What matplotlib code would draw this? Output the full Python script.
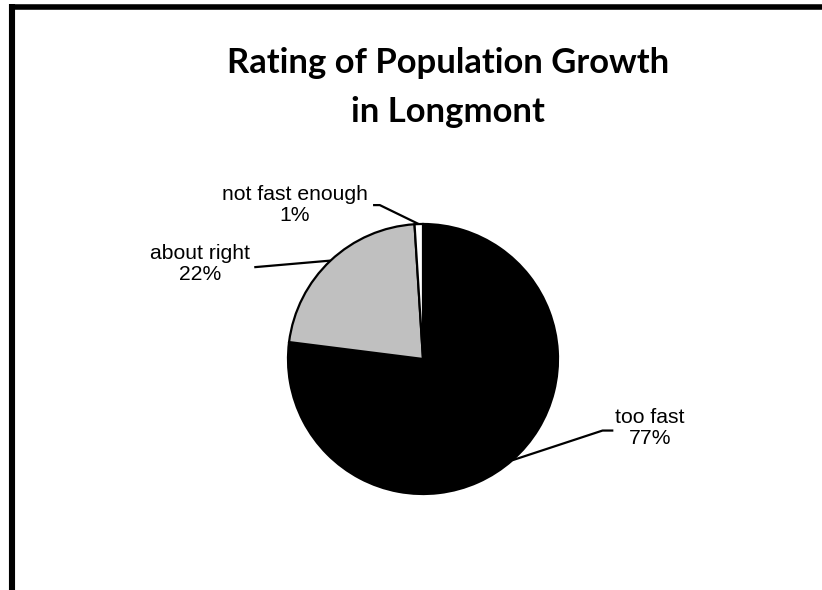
import numpy as np
import matplotlib
matplotlib.use("Agg")
import matplotlib.pyplot as plt
from matplotlib.lines import Line2D

# Data
categories = ["too fast", "about right", "not fast enough"]
values = [77, 22, 1]
colors = ["#000000", "#c0c0c0", "#ffffff"]
title_lines = ["Rating of Population Growth", "in Longmont"]

W, H = 822, 590
fig = plt.figure(figsize=(W / 100, H / 100), dpi=100)
fig.patch.set_facecolor("white")

def fx(px):
    return px / W

def fy(py):
    return 1 - py / H

# Frame (left and top edges only)
fig.add_artist(Line2D([fx(12), fx(12)], [fy(4), fy(600)], color="black",
                      linewidth=4.4, transform=fig.transFigure, solid_capstyle="butt"))
fig.add_artist(Line2D([fx(9), fx(830)], [fy(6.5), fy(6.5)], color="black",
                      linewidth=4.0, transform=fig.transFigure, solid_capstyle="butt"))

# Title (two lines)
for line, base in zip(title_lines, [73, 122]):
    fig.text(fx(448), fy(base), line, ha="center", va="baseline",
             fontsize=24.9, fontweight="bold", family=["Lato", "DejaVu Sans"])

# Pie axes
cx, cy, r = 423, 359, 135
ax = fig.add_axes([fx(cx - r), fy(cy + r), 2 * r / W, 2 * r / H])
wedges, _ = ax.pie(values, colors=colors, startangle=90, counterclock=False,
                   wedgeprops=dict(edgecolor="black", linewidth=1.6),
                   radius=1.0)
ax.set_xlim(-1, 1)
ax.set_ylim(-1, 1)
ax.set_aspect("equal")
ax.axis("off")

label_font = dict(fontsize=15.2, family=["Liberation Sans", "DejaVu Sans"])

# label layout: (text center xy, leader path points from text side to pie)
layout = {
    "too fast": dict(text=(1.68, -0.51), path=[(1.41, -0.53), (1.33, -0.53)]),
    "about right": dict(text=(-1.65, 0.703), path=[(-1.25, 0.68)]),
    "not fast enough": dict(text=(-0.95, 1.14), path=[(-0.37, 1.14), (-0.32, 1.14)]),
}

for w, cat, v in zip(wedges, categories, values):
    ang = np.deg2rad((w.theta1 + w.theta2) / 2)
    anchor = (np.cos(ang), np.sin(ang))
    lay = layout[cat]
    pts = lay["path"] + [anchor]
    xs = [p[0] for p in pts]
    ys = [p[1] for p in pts]
    ax.plot(xs, ys, color="black", linewidth=1.6, clip_on=False,
            solid_capstyle="butt", zorder=3)
    ax.text(lay["text"][0], lay["text"][1], f"{cat}\n{v}%", ha="center",
            va="center", linespacing=1.1, clip_on=False, **label_font)

fig.savefig("out.png", dpi=100, facecolor="white")
